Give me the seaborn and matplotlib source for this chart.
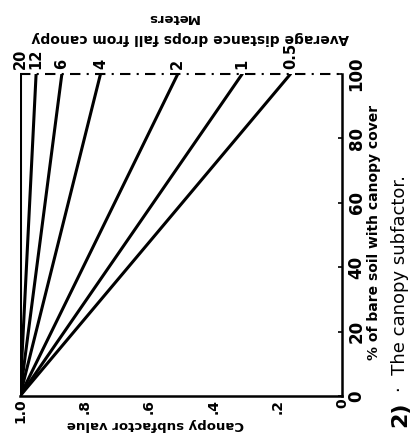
import matplotlib
matplotlib.use("Agg")
import matplotlib.pyplot as plt
import seaborn as sns
import pandas as pd

# Average drop-fall heights (m) and canopy subfactor at 100 % cover
drop_heights = ["20", "12", "6", "4", "2", "1", "0.5"]
subfactor_at_full = [1.0, 0.95, 0.87, 0.75, 0.51, 0.31, 0.16]
cover_range = [0, 100]
subfactor_at_zero = 1.0

value_ticks = [1.0, 0.8, 0.6, 0.4, 0.2, 0.0]
value_labels = ["1.0", ".8", ".6", ".4", ".2", "0"]
cover_ticks = [0, 20, 40, 60, 80, 100]

rows = []
for h, v in zip(drop_heights, subfactor_at_full):
    rows.append({"height": h, "cover": cover_range[0], "value": subfactor_at_zero})
    rows.append({"height": h, "cover": cover_range[1], "value": v})
df = pd.DataFrame(rows)

sns.set_theme(style="white")
plt.rcParams["font.family"] = ["DejaVu Sans"]
plt.rcParams["text.color"] = "black"
plt.rcParams["xtick.color"] = "black"
plt.rcParams["ytick.color"] = "black"

fig = plt.figure(figsize=(4.13, 4.44), dpi=100)
ax = fig.add_axes([20 / 413, 48 / 444, 322 / 413, 322 / 444])

sns.lineplot(data=df, x="value", y="cover", units="height", estimator=None,
             sort=False, color="black", lw=2.2, ax=ax, legend=False)

ax.set_xlim(1.0, 0.0)
ax.set_ylim(0, 100)

# frame: solid bottom and right, broken top edge
for side in ("left", "top"):
    ax.spines[side].set_visible(False)
for side in ("bottom", "right"):
    ax.spines[side].set_color("black")
    ax.spines[side].set_linewidth(1.8)
ax.axhline(100, color="black", lw=1.5, ls=(0, (5, 3, 1, 3)), clip_on=False)

ax.yaxis.tick_right()
ax.set_yticks(cover_ticks)
ax.set_yticklabels([str(t) for t in cover_ticks], rotation=90, va="center",
                   fontsize=12, fontweight="bold", color="black")
ax.set_xticks(value_ticks)
ax.set_xticklabels(value_labels, rotation=90, ha="center", va="top",
                   fontsize=10, fontweight="bold", color="black")
ax.tick_params(axis="y", direction="in", length=3, width=1.2, pad=4, colors="black")
ax.tick_params(axis="x", direction="in", length=3, width=1.2, pad=2, colors="black")
ax.set_xlabel("")
ax.set_ylabel("")

# drop-height labels at the top end of each line
for h, v in zip(drop_heights, subfactor_at_full):
    ax.text(v, 101.5, h, rotation=90, ha="center", va="bottom",
            fontsize=10.5, fontweight="bold", color="black")

# axis titles, upside-down as printed
fig.text(155 / 413, 1 - 424 / 444, "Canopy subfactor value", rotation=180,
         ha="center", va="center", fontsize=9.5, fontweight="bold", color="black")
fig.text(190 / 413, 1 - 38 / 444, "Average distance drops fall from canopy",
         rotation=180, ha="center", va="center", fontsize=10, fontweight="bold",
         color="black")
fig.text(173 / 413, 1 - 17 / 444, "Meters", rotation=180,
         ha="center", va="center", fontsize=9.5, fontweight="bold", color="black")

fig.text(374 / 413, 1 - 232 / 444, "% of bare soil with canopy cover",
         rotation=90, ha="center", va="center", fontsize=10, fontweight="bold",
         color="black")
fig.text(400 / 413, 1 - 414 / 444, "2)", rotation=90, ha="center",
         va="center", fontsize=16, fontweight="bold", color="black")
fig.text(400 / 413, 1 - 392 / 444, "\u00b7  The canopy subfactor.", rotation=90,
         ha="center", va="bottom", fontsize=13, fontweight="medium", color="black")

fig.savefig("out.png", dpi=100)
